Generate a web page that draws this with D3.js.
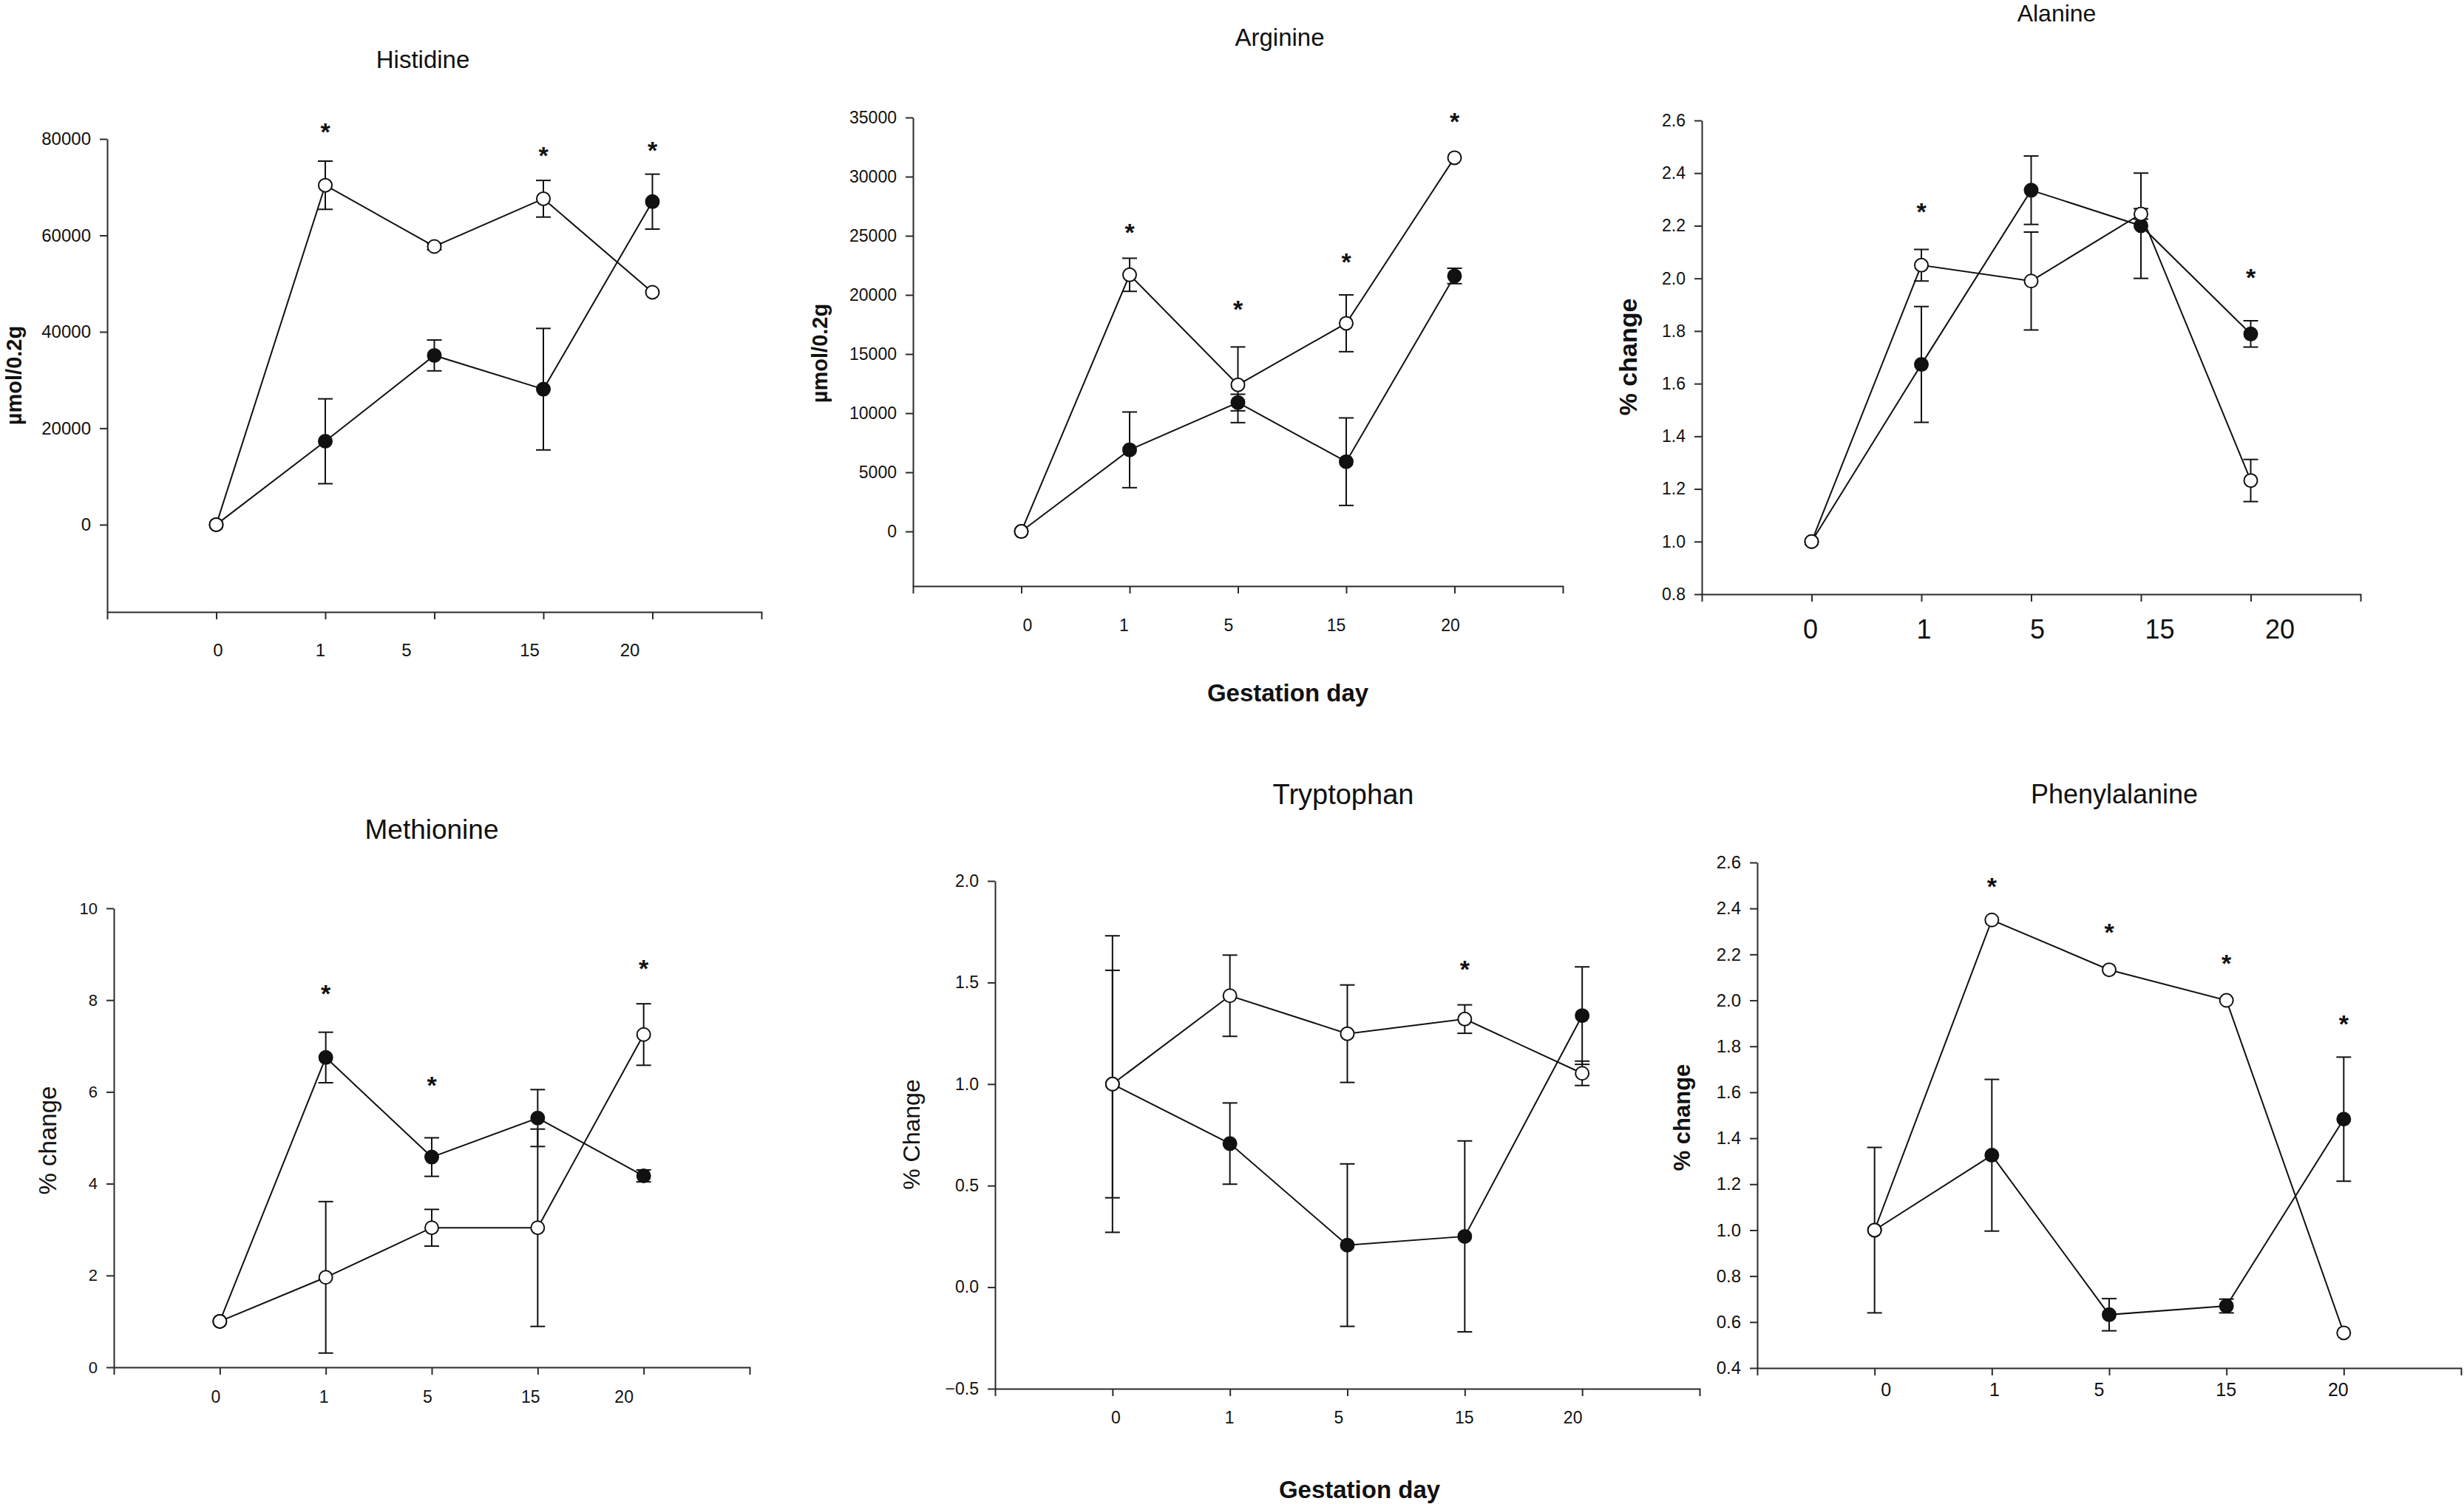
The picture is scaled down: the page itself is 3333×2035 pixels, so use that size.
<!DOCTYPE html>
<html>
<head>
<meta charset="utf-8">
<script src="https://cdn.jsdelivr.net/npm/d3@7"></script>
<style>
  html, body { margin: 0; padding: 0; background: #fff; }
  svg { display: block; font-family: "Liberation Sans", Arial, sans-serif; }
</style>
</head>
<body>
<div id="canvas"></div>
<script>
'use strict';

/* Gestation days shared by every panel. */
const days = ['0', '1', '5', '15', '20'];

/* Histidine (µmol/0.2g) */
const hisOpen = [0, 70400, 57700, 67600, 48200];
const hisOpenErr = [0, 5000, 700, 3800, 0];
const hisFilled = [0, 17300, 35100, 28100, 67000];
const hisFilledErr = [0, 8800, 3200, 12600, 5700];
const hisStars = [null, 82700, null, 77800, 78900];
const hisTicks = [0, 20000, 40000, 60000, 80000];

/* Arginine (µmol/0.2g) */
const argOpen = [0, 21700, 12400, 17600, 31600];
const argOpenErr = [0, 1400, 3200, 2400, 0];
const argFilled = [0, 6900, 10900, 5900, 21600];
const argFilledErr = [0, 3200, 700, 3700, 650];
const argStars = [null, 25800, 19300, 23300, 35160];
const argTicks = [0, 5000, 10000, 15000, 20000, 25000, 30000, 35000];

/* Alanine (% change) */
const alaOpen = [1.0, 2.05, 1.99, 2.245, 1.232];
const alaOpenErr = [0, 0.06, 0.186, 0.02, 0.08];
const alaFilled = [1.0, 1.673, 2.335, 2.2, 1.789];
const alaFilledErr = [0, 0.22, 0.13, 0.2, 0.05];
const alaStars = [null, 2.277, null, null, 2.026];
const alaTicks = [0.8, 1.0, 1.2, 1.4, 1.6, 1.8, 2.0, 2.2, 2.4, 2.6];

/* Methionine (% change) */
const metOpen = [1.0, 1.96, 3.04, 3.04, 7.25];
const metOpenErr = [0, 1.65, 0.4, 2.15, 0.67];
const metFilled = [1.0, 6.75, 4.58, 5.43, 4.17];
const metFilledErr = [0, 0.55, 0.42, 0.62, 0.13];
const metStars = [null, 8.27, 6.28, null, 8.82];
const metTicks = [0, 2, 4, 6, 8, 10];

/* Tryptophan (% Change) */
const trpOpen = [1.0, 1.435, 1.248, 1.32, 1.053];
const trpOpenErr = [0.73, 0.2, 0.24, 0.07, 0.06];
const trpFilled = [1.0, 0.707, 0.207, 0.25, 1.337];
const trpFilledErr = [0.56, 0.2, 0.4, 0.47, 0.24];
const trpStars = [null, null, null, 1.594, null];
const trpTicks = [-0.5, 0.0, 0.5, 1.0, 1.5, 2.0];

/* Phenylalanine (% change) */
const pheOpen = [1.0, 2.35, 2.133, 2.0, 0.553];
const pheOpenErr = [0.36, 0, 0, 0, 0];
const pheFilled = [1.0, 1.326, 0.632, 0.67, 1.483];
const pheFilledErr = [0, 0.33, 0.07, 0.03, 0.27];
const pheStars = [null, 2.521, 2.324, 2.188, 1.923];
const pheTicks = [0.4, 0.6, 0.8, 1.0, 1.2, 1.4, 1.6, 1.8, 2.0, 2.2, 2.4, 2.6];

/* Layout of each panel, in page pixels. labelShift nudges the day labels,
 * which sit slightly off their ticks in the original figure. */
const panels = [
  {
    title: 'Histidine', titleAt: [572, 80], titleSize: 33,
    yLabel: 'µmol/0.2g', yLabelAt: [21, 508], yLabelSize: 29, yLabelBold: true,
    box: {left: 145, right: 1030, top: 188, bottom: 828},
    yDomain: [-18100, 80000], yTicks: hisTicks, yFormat: d3.format('d'), yTickSize: 24,
    xTickSize: 24, xPad: 33, labelShift: [2, -7, -38, -19, -31],
    open: hisOpen, openErr: hisOpenErr, filled: hisFilled, filledErr: hisFilledErr,
    stars: hisStars,
  },
  {
    title: 'Arginine', titleAt: [1731, 50], titleSize: 33,
    yLabel: 'µmol/0.2g', yLabelAt: [1111, 478], yLabelSize: 29, yLabelBold: true,
    box: {left: 1235, right: 2114, top: 159, bottom: 793},
    yDomain: [-4620, 35000], yTicks: argTicks, yFormat: d3.format('d'), yTickSize: 23,
    xTickSize: 23, xPad: 35, labelShift: [8, -8, -13, -14, -6],
    open: argOpen, openErr: argOpenErr, filled: argFilled, filledErr: argFilledErr,
    stars: argStars,
  },
  {
    title: 'Alanine', titleAt: [2782, 17], titleSize: 32,
    yLabel: '% change', yLabelAt: [2205, 483], yLabelSize: 34, yLabelBold: true,
    box: {left: 2302, right: 3193, top: 163, bottom: 804},
    yDomain: [0.8, 2.6], yTicks: alaTicks, yFormat: d3.format('.1f'), yTickSize: 23,
    xTickSize: 36, xPad: 24, labelShift: [-2, 3, 8, 25, 39],
    open: alaOpen, openErr: alaOpenErr, filled: alaFilled, filledErr: alaFilledErr,
    stars: alaStars,
  },
  {
    title: 'Methionine', titleAt: [584, 1122], titleSize: 37,
    yLabel: '% change', yLabelAt: [67, 1543], yLabelSize: 33, yLabelBold: false,
    box: {left: 154, right: 1014, top: 1229, bottom: 1850},
    yDomain: [0, 10], yTicks: metTicks, yFormat: d3.format('d'), yTickSize: 22,
    xTickSize: 23, xPad: 22, labelShift: [-6, -3, -6, -10, -27],
    open: metOpen, openErr: metOpenErr, filled: metFilled, filledErr: metFilledErr,
    stars: metStars,
  },
  {
    title: 'Tryptophan', titleAt: [1817, 1074], titleSize: 38,
    yLabel: '% Change', yLabelAt: [1236, 1535], yLabelSize: 32, yLabelBold: false,
    box: {left: 1346, right: 2299, top: 1192, bottom: 1879},
    yDomain: [-0.5, 2.0], yTicks: trpTicks, yFormat: d3.format('.1f'), yTickSize: 23,
    xTickSize: 23, xPad: 21, labelShift: [4, -1, -12, -1, -13],
    open: trpOpen, openErr: trpOpenErr, filled: trpFilled, filledErr: trpFilledErr,
    stars: trpStars,
  },
  {
    title: 'Phenylalanine', titleAt: [2860, 1074], titleSize: 36,
    yLabel: '% change', yLabelAt: [2278, 1512], yLabelSize: 31, yLabelBold: true,
    box: {left: 2377, right: 3329, top: 1167, bottom: 1851},
    yDomain: [0.4, 2.6], yTicks: pheTicks, yFormat: d3.format('.1f'), yTickSize: 24,
    xTickSize: 25, xPad: 10, labelShift: [15, 3, -14, -1, -8],
    open: pheOpen, openErr: pheOpenErr, filled: pheFilled, filledErr: pheFilledErr,
    stars: pheStars,
  },
];

/* Shared x axis titles. */
const xTitles = [
  {text: 'Gestation day', at: [1742, 937]},
  {text: 'Gestation day', at: [1839, 2015]},
];

const INK = '#111';
const AXIS = '#2b2b2b';

/**
 * Draws one SigmaPlot-style panel: two series (open and filled circles)
 * with error bars and asterisks for significance.
 */
class PanelPlotter {
  /**
   * @param {Object} svg d3 selection of the page svg
   * @param {Object} panel one entry of panels
   */
  constructor(svg, panel) {
    this.panel_ = panel;
    this.g_ = svg.append('g').attr('class', 'panel');
    const box = panel.box;
    /* The day axis has one empty step at each end. */
    this.x_ = d3.scalePoint()
        .domain(days)
        .range([box.left, box.right])
        .padding(1);
    this.y_ = d3.scaleLinear()
        .domain(panel.yDomain)
        .range([box.bottom, box.top]);
  }

  drawAxes_() {
    const p = this.panel_;
    const xAxis = this.g_.append('g')
        .attr('transform', `translate(0,${p.box.bottom})`)
        .call(d3.axisBottom(this.x_).tickSize(10).tickPadding(p.xPad));
    xAxis.selectAll('.tick text')
        .attr('font-size', p.xTickSize)
        .attr('dx', (d, i) => p.labelShift[i]);

    const yAxis = this.g_.append('g')
        .attr('transform', `translate(${p.box.left},0)`)
        .call(d3.axisLeft(this.y_)
            .tickValues(p.yTicks)
            .tickFormat(p.yFormat)
            .tickSize(10)
            .tickSizeOuter(0)
            .tickPadding(12));
    yAxis.selectAll('.tick text').attr('font-size', p.yTickSize);

    for (const axis of [xAxis, yAxis]) {
      axis.attr('font-family', null);
      axis.selectAll('path, line')
          .attr('stroke', AXIS)
          .attr('stroke-width', 2);
      axis.selectAll('text').attr('fill', '#111');
    }
  }

  drawLabels_() {
    const p = this.panel_;
    this.g_.append('text')
        .attr('x', p.titleAt[0])
        .attr('y', p.titleAt[1])
        .attr('dy', '0.36em')
        .attr('text-anchor', 'middle')
        .attr('font-size', p.titleSize)
        .attr('fill', '#111')
        .text(p.title);

    this.g_.append('text')
        .attr('transform', `translate(${p.yLabelAt[0]},${p.yLabelAt[1]}) rotate(-90)`)
        .attr('dy', '0.26em')
        .attr('text-anchor', 'middle')
        .attr('font-size', p.yLabelSize)
        .attr('font-weight', p.yLabelBold ? 'bold' : 'normal')
        .attr('fill', '#111')
        .text(p.yLabel);
  }

  /**
   * @param {!Array<number>} values
   * @param {!Array<number>} errors
   * @param {boolean} hollow
   */
  drawSeries_(values, errors, hollow) {
    const x = this.x_;
    const y = this.y_;
    const pts = days.map((d, i) => ({day: d, v: values[i], e: errors[i]}));
    const layer = this.g_.append('g').attr('class', hollow ? 'open' : 'filled');

    layer.append('path')
        .datum(pts)
        .attr('fill', 'none')
        .attr('stroke', INK)
        .attr('stroke-width', 2)
        .attr('d', d3.line().x((d) => x(d.day)).y((d) => y(d.v)));

    const bars = layer.selectAll('g.err')
        .data(pts.filter((d) => d.e > 0))
        .join('g')
        .attr('class', 'err')
        .attr('stroke', INK)
        .attr('stroke-width', 2);
    bars.append('line')
        .attr('x1', (d) => x(d.day)).attr('x2', (d) => x(d.day))
        .attr('y1', (d) => y(d.v - d.e)).attr('y2', (d) => y(d.v + d.e));
    for (const sign of [-1, 1]) {
      bars.append('line')
          .attr('x1', (d) => x(d.day) - 10).attr('x2', (d) => x(d.day) + 10)
          .attr('y1', (d) => y(d.v + sign * d.e))
          .attr('y2', (d) => y(d.v + sign * d.e));
    }
    return {layer, pts};
  }

  drawMarkers_(layer, pts, hollow) {
    layer.selectAll('circle')
        .data(pts)
        .join('circle')
        .attr('cx', (d) => this.x_(d.day))
        .attr('cy', (d) => this.y_(d.v))
        .attr('r', 9)
        .attr('fill', hollow ? '#fff' : INK)
        .attr('stroke', INK)
        .attr('stroke-width', 2);
  }

  drawStars_() {
    const p = this.panel_;
    const marks = days
        .map((d, i) => ({day: d, v: p.stars[i]}))
        .filter((d) => d.v !== null);
    this.g_.selectAll('text.star')
        .data(marks)
        .join('text')
        .attr('class', 'star')
        .attr('x', (d) => this.x_(d.day))
        .attr('y', (d) => this.y_(d.v))
        .attr('dy', '0.58em')
        .attr('text-anchor', 'middle')
        .attr('font-size', 34)
        .attr('font-weight', 'bold')
        .attr('fill', '#111')
        .text('*');
  }

  plot() {
    const p = this.panel_;
    this.drawAxes_();
    this.drawLabels_();
    const filled = this.drawSeries_(p.filled, p.filledErr, false);
    const open = this.drawSeries_(p.open, p.openErr, true);
    /* Markers go last so the open circles sit on top of the lines. */
    this.drawMarkers_(filled.layer, filled.pts, false);
    this.drawMarkers_(open.layer, open.pts, true);
    this.drawStars_();
  }
}

const svg = d3.select('#canvas').append('svg')
    .attr('width', 3333)
    .attr('height', 2035);

panels.forEach((panel) => new PanelPlotter(svg, panel).plot());

svg.selectAll('text.xtitle')
    .data(xTitles)
    .join('text')
    .attr('class', 'xtitle')
    .attr('x', (d) => d.at[0])
    .attr('y', (d) => d.at[1])
    .attr('dy', '0.36em')
    .attr('text-anchor', 'middle')
    .attr('font-size', 33)
    .attr('font-weight', 'bold')
    .attr('fill', '#111')
    .text((d) => d.text);
</script>
</body>
</html>
